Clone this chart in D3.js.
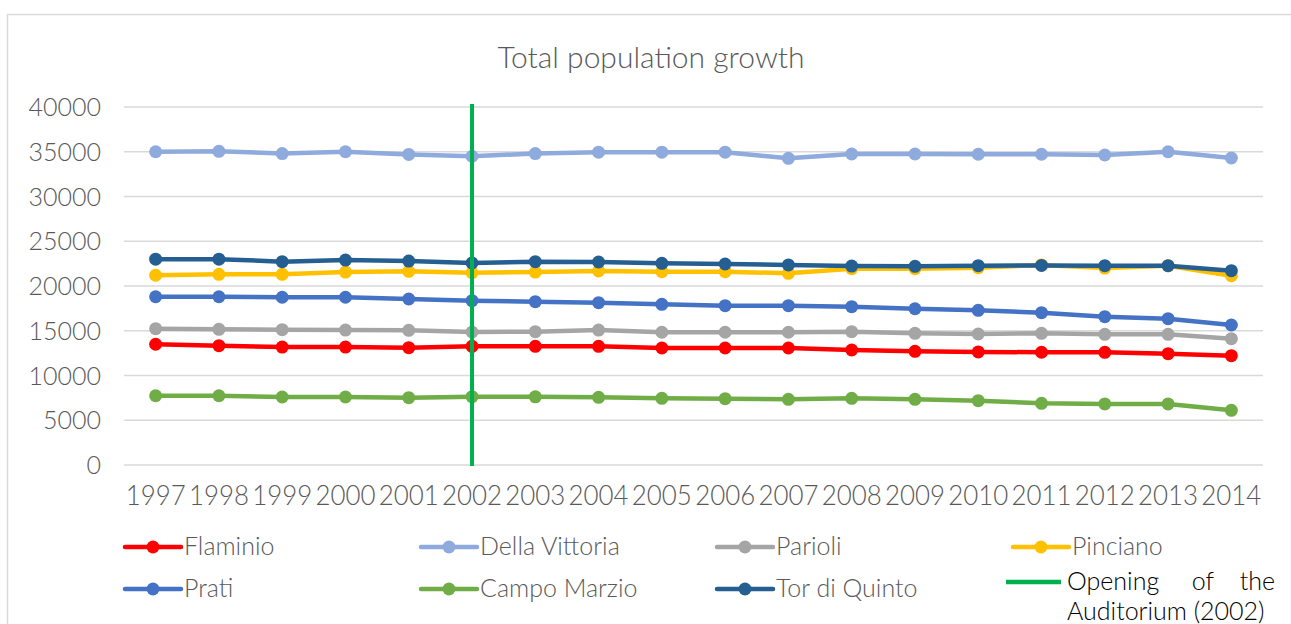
<!DOCTYPE html>
<html>
<head>
<meta charset="utf-8">
<script src="https://cdn.jsdelivr.net/npm/d3@7"></script>
<style>
  body { margin: 0; background: #fff; }
  svg text { font-family: "Lato", "DejaVu Sans", sans-serif; font-weight: 300; }
</style>
</head>
<body>
<svg id="chart" width="1291" height="624"></svg>
<script>
// data
const years = [1997,1998,1999,2000,2001,2002,2003,2004,2005,2006,2007,2008,2009,2010,2011,2012,2013,2014];
const yTicks = [0,5000,10000,15000,20000,25000,30000,35000,40000];

const flaminio      = [13490,13330,13180,13180,13110,13260,13260,13260,13070,13070,13070,12850,12700,12630,12600,12590,12440,12210];
const dellaVittoria = [35000,35050,34800,35000,34700,34500,34800,34950,34950,34950,34270,34750,34750,34720,34720,34640,35000,34300];
const parioli       = [15230,15160,15120,15080,15050,14860,14900,15080,14830,14830,14830,14900,14710,14640,14710,14600,14600,14110];
const pinciano      = [21200,21300,21300,21560,21640,21480,21560,21680,21600,21600,21420,21930,21930,22050,22350,22000,22250,21150];
const prati         = [18800,18800,18740,18740,18550,18360,18250,18140,17950,17800,17800,17690,17460,17280,17020,16570,16350,15640];
const campoMarzio   = [7740,7740,7600,7600,7520,7630,7620,7560,7450,7410,7340,7450,7340,7190,6890,6820,6820,6110];
const torDiQuinto   = [23000,23000,22720,22900,22790,22570,22720,22680,22530,22460,22350,22230,22200,22270,22300,22270,22270,21710];

const seriesNames  = ["Flaminio","Della Vittoria","Parioli","Pinciano","Prati","Campo Marzio","Tor di Quinto"];
const seriesValues = [flaminio, dellaVittoria, parioli, pinciano, prati, campoMarzio, torDiQuinto];
const seriesColors = ["#FF0000","#8FAADC","#A5A5A5","#FFC000","#4472C4","#70AD47","#255E91"];

const openingYear = 2002;
const openingLabel = ["Opening", "of", "the"];
const openingLabel2 = "Auditorium (2002)";

const svg = d3.select("#chart");

// outer frame (only top and left are visible in the crop)
svg.append("path")
    .attr("d", "M7.5,640 L7.5,14.5 L1300,14.5")
    .attr("fill", "none")
    .attr("stroke", "#D9D9D9")
    .attr("stroke-width", 1.5);

const x = d3.scalePoint()
    .domain(years)
    .range([124, 1263])
    .padding(0.5);

const y = d3.scaleLinear()
    .domain([0, 40000])
    .range([465, 107]);

// title
svg.append("text")
    .attr("x", 651)
    .attr("y", 68)
    .attr("text-anchor", "middle")
    .attr("fill", "#595959")
    .style("font-size", "30px")
    .text("Total population growth");

// gridlines
svg.append("g")
    .selectAll("line")
    .data(yTicks)
    .join("line")
    .attr("x1", 124)
    .attr("x2", 1263)
    .attr("y1", d => y(d))
    .attr("y2", d => y(d))
    .attr("stroke", "#D9D9D9")
    .attr("stroke-width", 1.5);

// y axis labels
svg.append("g")
    .selectAll("text")
    .data(yTicks)
    .join("text")
    .attr("x", 101)
    .attr("y", d => y(d) + 9)
    .attr("text-anchor", "end")
    .attr("fill", "#595959")
    .style("font-size", "25px")
    .text(d => d);

// x axis labels
svg.append("g")
    .selectAll("text")
    .data(years)
    .join("text")
    .attr("x", d => x(d))
    .attr("y", 505)
    .attr("text-anchor", "middle")
    .attr("fill", "#595959")
    .style("font-size", "27px")
    .attr("textLength", 60)
    .attr("lengthAdjust", "spacingAndGlyphs")
    .text(d => d);

const line = d3.line()
    .x((d, i) => x(years[i]))
    .y(d => y(d));

// series
seriesValues.forEach(function(vals, k) {
    const g = svg.append("g");
    g.append("path")
        .attr("d", line(vals))
        .attr("fill", "none")
        .attr("stroke", seriesColors[k])
        .attr("stroke-width", 4.5)
        .attr("stroke-linejoin", "round")
        .attr("stroke-linecap", "round");
    g.selectAll("circle")
        .data(vals)
        .join("circle")
        .attr("cx", (d, i) => x(years[i]))
        .attr("cy", d => y(d))
        .attr("r", 6.5)
        .attr("fill", seriesColors[k]);
});

// opening of the auditorium
svg.append("line")
    .attr("x1", x(openingYear))
    .attr("x2", x(openingYear))
    .attr("y1", 104)
    .attr("y2", 466)
    .attr("stroke", "#00B050")
    .attr("stroke-width", 4);

// legend
const legCols = [125, 421, 717, 1013];
const legRows = [547, 589];

const leg = svg.append("g")
    .selectAll("g")
    .data(seriesNames)
    .join("g")
    .attr("transform", (d, i) => `translate(${legCols[i % 4]},${legRows[Math.floor(i / 4)]})`);

leg.append("line")
    .attr("x1", 0).attr("x2", 56)
    .attr("stroke", (d, i) => seriesColors[i])
    .attr("stroke-width", 4.5)
    .attr("stroke-linecap", "round");

leg.append("circle")
    .attr("cx", 28)
    .attr("r", 6.5)
    .attr("fill", (d, i) => seriesColors[i]);

leg.append("text")
    .attr("x", 59)
    .attr("y", 8)
    .attr("fill", "#595959")
    .style("font-size", "25px")
    .text(d => d);

const op = svg.append("g").attr("transform", "translate(1006,582)");
op.append("line")
    .attr("x1", 0).attr("x2", 55)
    .attr("stroke", "#00B050")
    .attr("stroke-width", 4.5);
op.append("text")
    .attr("x", 61).attr("y", 8)
    .attr("fill", "#000")
    .style("font-size", "25px")
    .text(openingLabel[0]);
op.append("text")
    .attr("x", 197).attr("y", 8)
    .attr("text-anchor", "middle")
    .attr("fill", "#000")
    .style("font-size", "25px")
    .text(openingLabel[1]);
op.append("text")
    .attr("x", 269).attr("y", 8)
    .attr("text-anchor", "end")
    .attr("fill", "#000")
    .style("font-size", "25px")
    .text(openingLabel[2]);
op.append("text")
    .attr("x", 61).attr("y", 38)
    .attr("fill", "#000")
    .style("font-size", "25px")
    .text(openingLabel2);
</script>
</body>
</html>
